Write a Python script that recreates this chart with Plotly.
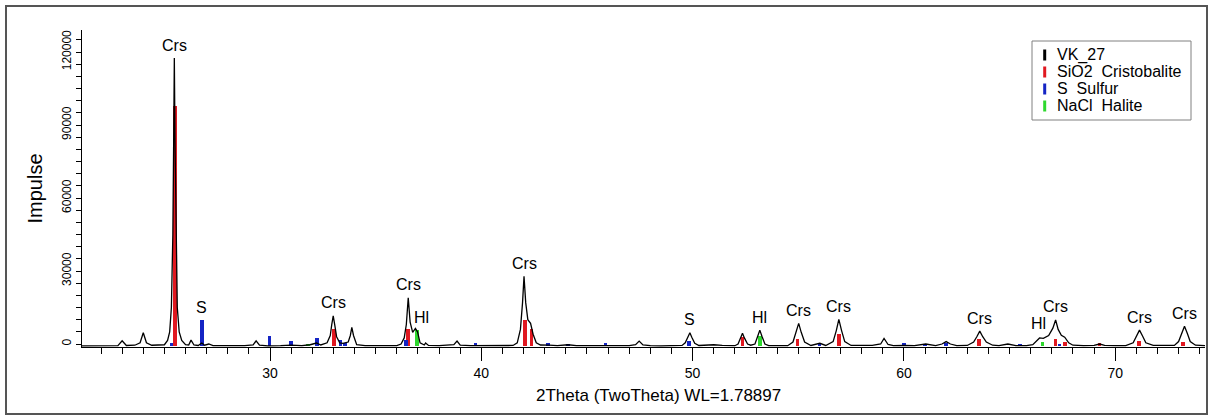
import plotly.graph_objects as go

# ---- measured pattern VK_27 (2theta in degrees, intensity in counts) ----
two_theta = [21.1, 21.5, 22.0, 22.5, 22.8, 23.0, 23.2, 23.6, 23.85, 24.0, 24.15, 24.4, 24.8,
             25.0, 25.15, 25.25, 25.33, 25.40, 25.44, 25.47, 25.50, 25.55, 25.61, 25.70, 25.82, 26.0,
             26.15, 26.26, 26.4, 26.6, 26.77, 26.9, 27.1, 27.3, 27.8, 28.3, 28.8, 29.2, 29.34, 29.5,
             29.9, 30.5, 31.0, 31.5, 31.9, 32.2, 32.4, 32.7, 32.85, 32.92, 32.99, 33.06, 33.15, 33.3,
             33.45, 33.7, 33.8, 33.87, 33.95, 34.1, 34.5, 35.0, 35.5, 36.0, 36.2, 36.35, 36.45, 36.54,
             36.63, 36.75, 36.88, 36.98, 37.1, 37.3, 37.36, 37.5, 38.0, 38.5, 38.7, 38.85, 39.0, 39.5,
             40.0, 40.5, 41.0, 41.5, 41.7, 41.85, 41.95, 42.02, 42.1, 42.2, 42.33, 42.45, 42.6, 42.8,
             43.2, 43.6, 44.1, 44.5, 45.0, 45.5, 46.0, 46.5, 47.0, 47.3, 47.47, 47.65, 48.0, 48.5,
             49.0, 49.5, 49.65, 49.78, 49.87, 49.96, 50.1, 50.3, 50.8, 51.0, 51.4, 52.0, 52.15, 52.27,
             52.36, 52.45, 52.6, 52.75, 52.95, 53.08, 53.18, 53.28, 53.42, 53.6, 54.0, 54.5, 54.75,
             54.9, 55.02, 55.14, 55.3, 55.6, 56.02, 56.3, 56.65, 56.8, 56.92, 57.05, 57.2, 57.5, 58.0,
             58.5, 58.9, 59.06, 59.25, 59.5, 60.0, 60.5, 61.03, 61.5, 61.8, 62.0, 62.2, 62.5, 63.0,
             63.3, 63.45, 63.59, 63.73, 63.9, 64.2, 64.5, 64.92, 65.3, 65.8, 66.1, 66.42, 66.6, 66.85,
             67.05, 67.18, 67.3, 67.45, 67.61, 67.8, 68.0, 68.5, 69.0, 69.26, 69.5, 70.0, 70.5, 70.85,
             71.0, 71.15, 71.3, 71.45, 71.8, 72.3, 72.8, 73.0, 73.14, 73.28, 73.42, 73.55, 73.8, 74.25]
intensity = [-800, -750, -850, -780, -700, 1300, -600, -500, 500, 4600, 500, -500, -400,
             -300, 1500, 5000, 15000, 45000, 85000, 117500, 85000, 45000, 15000, 5000, 1500, -300,
             -400, 1600, -400, -600, 400, -500, 0, -700, -700, -750, -650, -400, 1300, -500,
             -800, -700, -500, -700, -300, 400, -400, 500, 3500, 8000, 11600, 8000, 3000, 500,
             300, 800, 3500, 6800, 3500, -300, -700, -700, -800, -700, 0, 2500, 8000, 19000,
             9000, 4800, 6400, 5000, 500, -400, 400, -600, -700, -600, -300, 1230, -500, -700,
             -750, -700, -750, -600, 500, 6000, 17000, 27800, 17000, 10000, 8500, 4000, 500, -400,
             -500, -700, -300, -700, -700, -750, -700, -750, -650, -300, 1200, -400, -700, -750,
             -700, -600, 500, 2800, 4600, 2800, 300, -600, -500, -300, -600, -700, 0, 2500,
             4400, 2500, 0, -500, 0, 3200, 5700, 3200, 0, -700, -600, -700, 800,
             4800, 8500, 4800, 800, -600, 300, -600, 1000, 5500, 10100, 5500, 1000, -600, -700,
             -600, 0, 2300, -200, -700, -600, -700, 0, -700, 0, 1000, 0, -700, -600,
             800, 3000, 5300, 3000, 800, -500, -700, 0, -700, -700, -300, 2500, 2300, 3500,
             6500, 9900, 6000, 3600, 2800, 500, -500, -700, -600, 0, -600, -700, -700, 500,
             3200, 5700, 3200, 500, -600, -700, -600, 1000, 4200, 7300, 4200, 1000, -500, -700]

# ---- reference sticks ----
crs_pos = [25.51, 33.04, 36.54, 42.06, 42.38, 52.36, 54.96, 56.92, 63.55, 67.18, 67.61, 69.26, 71.12, 73.2]
crs_int = [98000, 6200, 6000, 9900, 6300, 3000, 1900, 4000, 1900, 1900, 950, 300, 1350, 950]
sul_pos = [25.33, 26.77, 29.97, 30.98, 32.21, 33.34, 33.55, 36.43, 39.73, 43.16, 44.1, 45.88,
           49.83, 56.0, 60.0, 61.0, 62.0, 65.48, 67.37]
sul_int = [300, 9860, 3300, 1250, 2340, 1650, 500, 1500, 300, 300, 200, 300,
           1350, 200, 400, 200, 300, 200, 200]
hal_pos = [31.81, 36.95, 53.18, 66.55]
hal_int = [200, 5750, 3300, 700]

# ---- peak labels ----
lab_text = ["Crs", "S", "Crs", "Crs", "Hl", "Crs", "S", "Hl", "Crs", "Crs", "Crs", "Hl", "Crs", "Crs", "Crs"]
lab_x = [25.47, 26.77, 32.99, 36.54, 37.17, 42.02, 49.87, 53.18, 55.02, 56.92, 63.59, 66.38, 67.18, 71.15, 73.28]
lab_y = [117500, 9860, 11600, 19000, 5750, 27800, 4600, 5700, 8500, 10100, 5300, 2900, 9900, 5700, 7300]

legend_names = ["VK_27", "SiO2  Cristobalite", "S  Sulfur", "NaCl  Halite"]
legend_colors = ["black", "#e01820", "#1424c4", "#2ed82e"]
BASE = -800
FONT = "Arial, Liberation Sans, sans-serif"

fig = go.Figure()
fig.add_trace(go.Scatter(x=two_theta, y=intensity, mode="lines",
                         line=dict(color="black", width=1.3), showlegend=False))
for pos, val, col in [(crs_pos, crs_int, legend_colors[1]), (sul_pos, sul_int, legend_colors[2]),
                      (hal_pos, hal_int, legend_colors[3])]:
    fig.add_trace(go.Bar(x=pos, y=[v - BASE for v in val], base=BASE, width=0.17,
                         marker=dict(color=col, line=dict(width=0)), showlegend=False))

for t, x, y in zip(lab_text, lab_x, lab_y):
    fig.add_annotation(x=x, y=y, text=t, showarrow=False, yshift=13, yanchor="middle",
                       font=dict(family=FONT, size=16, color="black"))

# plot area in px: x 82..1205, y 30..347
def px(x):
    return (x - 82) / 1123.0
def py(y):
    return (347 - y) / 317.0

# outer frame
fig.add_shape(type="rect", xref="paper", yref="paper", x0=px(6), x1=px(1207), y0=py(414), y1=py(6),
              line=dict(color="#555555", width=2), layer="below")

# legend box (drawn as shapes + text)
fig.add_shape(type="rect", xref="paper", yref="paper", x0=px(1032), x1=px(1191), y0=py(120), y1=py(41),
              line=dict(color="#808080", width=1), fillcolor="white", layer="above")
for i, (name, col) in enumerate(zip(legend_names, legend_colors)):
    cy = 55 + i * 17
    fig.add_shape(type="line", xref="paper", yref="paper", x0=px(1044.7), x1=px(1044.7),
                  y0=py(cy + 5.5), y1=py(cy - 5.5), line=dict(color=col, width=3), layer="above")
    fig.add_annotation(xref="paper", yref="paper", x=px(1055), y=py(cy), text=name, showarrow=False,
                       xanchor="left", yanchor="middle", font=dict(family=FONT, size=16, color="black"))

# x-axis title
fig.add_annotation(xref="paper", yref="paper", x=px(658), y=py(395), text="2Theta (TwoTheta) WL=1.78897",
                   showarrow=False, xanchor="center", yanchor="middle",
                   font=dict(family=FONT, size=17, color="black"))

fig.update_layout(
    width=1213, height=419, margin=dict(l=82, r=8, t=30, b=72),
    paper_bgcolor="white", plot_bgcolor="white", bargap=0, barmode="overlay",
    font=dict(family=FONT, color="black"), showlegend=False,
    xaxis=dict(range=[21.1, 74.25], showgrid=False, zeroline=False, showline=True, linecolor="black",
               linewidth=1, ticks="outside", tick0=0, dtick=10, ticklen=13, tickcolor="black",
               tickfont=dict(size=14), minor=dict(dtick=1, ticks="outside", ticklen=6, tickcolor="black")),
    yaxis=dict(range=[-1230, 129050], showgrid=False, zeroline=False, showline=True, linecolor="black",
               linewidth=1, ticks="outside", tick0=0, dtick=30000, ticklen=5, tickcolor="black",
               tickangle=-90, tickfont=dict(size=12), tickformat="d",
               minor=dict(dtick=5000, ticks="outside", ticklen=5, tickcolor="black"),
               title=dict(text="Impulse", font=dict(size=20), standoff=12)),
)
fig.write_html("out.html")
